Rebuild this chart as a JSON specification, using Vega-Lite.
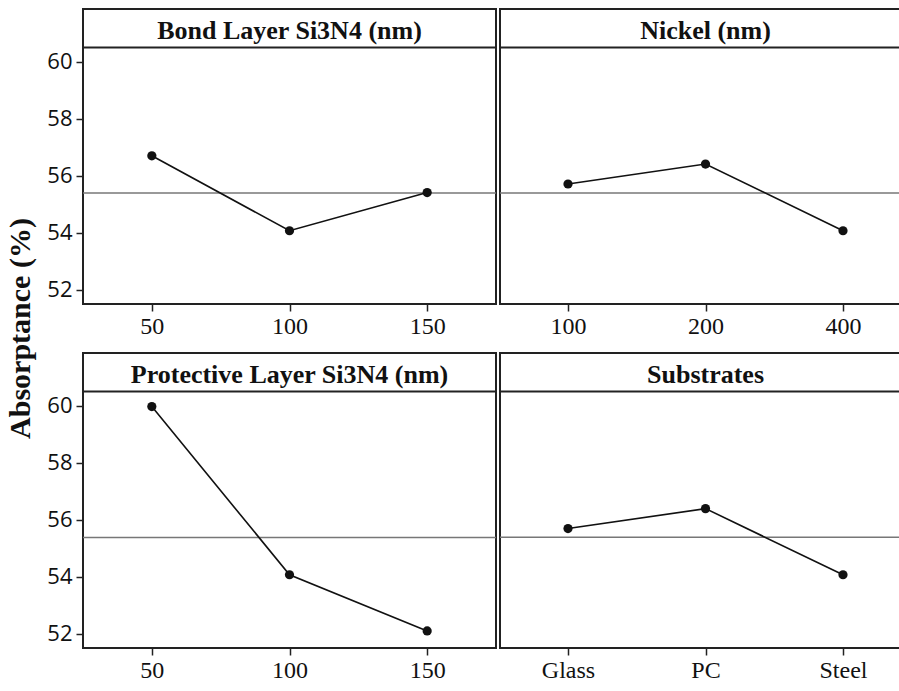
{
  "$schema": "https://vega.github.io/schema/vega-lite/v6.json",
  "padding": {"left": 5, "top": 8, "right": 0, "bottom": 0},
  "background": "white",
  "datasets": {
    "effects": [
      {"factor": "Bond", "level": "50", "absorptance": 56.70},
      {"factor": "Bond", "level": "100", "absorptance": 54.07},
      {"factor": "Bond", "level": "150", "absorptance": 55.41},
      {"factor": "Nickel", "level": "100", "absorptance": 55.71},
      {"factor": "Nickel", "level": "200", "absorptance": 56.41},
      {"factor": "Nickel", "level": "400", "absorptance": 54.07},
      {"factor": "Protective", "level": "50", "absorptance": 59.97},
      {"factor": "Protective", "level": "100", "absorptance": 54.07},
      {"factor": "Protective", "level": "150", "absorptance": 52.10},
      {"factor": "Substrates", "level": "Glass", "absorptance": 55.69},
      {"factor": "Substrates", "level": "PC", "absorptance": 56.39},
      {"factor": "Substrates", "level": "Steel", "absorptance": 54.07}
    ]
  },
  "title": {
    "text": "Absorptance (%)",
    "orient": "left",
    "anchor": "middle",
    "font": "Liberation Serif",
    "fontSize": 30,
    "fontWeight": "bold",
    "color": "#111",
    "offset": 10,
    "dx": 17
  },
  "spacing": 13,
  "vconcat": [
    {
      "spacing": 0,
      "hconcat": [
        {
          "width": 413, "height": 295,
          "layer": [
            {
              "data": {"name": "effects"},
              "transform": [{"filter": "datum.factor === 'Bond'"}, {"aggregate": [{"op": "mean", "field": "absorptance", "as": "absorptance"}]}],
              "mark": {"type": "rule", "color": "#777", "strokeWidth": 1.5},
              "encoding": {"y": {"field": "absorptance", "type": "quantitative", "title": null}}
            },
            {
              "data": {"values": [{"edge": 60.5}]},
              "mark": {"type": "rule", "color": "#222", "strokeWidth": 2},
              "encoding": {"y": {"field": "edge", "type": "quantitative", "title": null}}
            },
            {
              "data": {"name": "effects"},
              "transform": [{"filter": "datum.factor === 'Bond'"}],
              "mark": {"type": "line", "color": "#111", "strokeWidth": 1.6},
              "encoding": {
                "x": {"field": "level", "type": "nominal", "sort": null, "scale": {"type": "point", "padding": 0.5, "domain": ["50", "100", "150"]}, "title": null},
                "y": {"field": "absorptance", "type": "quantitative", "title": null, "scale": {"domain": [51.5, 61.85], "nice": false, "zero": false}, "axis": {"values": [52, 54, 56, 58, 60]}}
              }
            },
            {
              "data": {"name": "effects"},
              "transform": [{"filter": "datum.factor === 'Bond'"}],
              "mark": {"type": "point", "filled": true, "color": "#111", "size": 85, "opacity": 1},
              "encoding": {
                "x": {"field": "level", "type": "nominal", "sort": null, "title": null},
                "y": {"field": "absorptance", "type": "quantitative", "title": null}
              }
            },
            {
              "data": {"values": [{"label": "Bond Layer Si3N4 (nm)", "level": "100", "pos": 60.8}]},
              "mark": {"type": "text", "font": "Liberation Serif", "fontSize": 26, "fontWeight": "bold", "color": "#111", "baseline": "alphabetic", "align": "center"},
              "encoding": {
                "x": {"field": "level", "type": "nominal", "sort": null, "title": null},
                "y": {"field": "pos", "type": "quantitative", "title": null},
                "text": {"field": "label"}
              }
            }
          ]
        },
        {
          "width": 401, "height": 295,
          "layer": [
            {
              "data": {"name": "effects"},
              "transform": [{"filter": "datum.factor === 'Nickel'"}, {"aggregate": [{"op": "mean", "field": "absorptance", "as": "absorptance"}]}],
              "mark": {"type": "rule", "color": "#777", "strokeWidth": 1.5},
              "encoding": {"y": {"field": "absorptance", "type": "quantitative", "title": null, "axis": null}}
            },
            {
              "data": {"values": [{"edge": 60.5}]},
              "mark": {"type": "rule", "color": "#222", "strokeWidth": 2},
              "encoding": {"y": {"field": "edge", "type": "quantitative", "title": null, "axis": null}}
            },
            {
              "data": {"name": "effects"},
              "transform": [{"filter": "datum.factor === 'Nickel'"}],
              "mark": {"type": "line", "color": "#111", "strokeWidth": 1.6},
              "encoding": {
                "x": {"field": "level", "type": "nominal", "sort": null, "scale": {"type": "point", "range": [68, 343], "padding": 0, "domain": ["100", "200", "400"]}, "title": null},
                "y": {"field": "absorptance", "type": "quantitative", "title": null, "axis": null, "scale": {"domain": [51.5, 61.85], "nice": false, "zero": false}}
              }
            },
            {
              "data": {"name": "effects"},
              "transform": [{"filter": "datum.factor === 'Nickel'"}],
              "mark": {"type": "point", "filled": true, "color": "#111", "size": 85, "opacity": 1},
              "encoding": {
                "x": {"field": "level", "type": "nominal", "sort": null, "title": null},
                "y": {"field": "absorptance", "type": "quantitative", "title": null, "axis": null}
              }
            },
            {
              "data": {"values": [{"label": "Nickel (nm)", "level": "200", "pos": 60.8}]},
              "mark": {"type": "text", "font": "Liberation Serif", "fontSize": 26, "fontWeight": "bold", "color": "#111", "baseline": "alphabetic", "align": "center"},
              "encoding": {
                "x": {"field": "level", "type": "nominal", "sort": null, "title": null},
                "y": {"field": "pos", "type": "quantitative", "title": null, "axis": null},
                "text": {"field": "label"}
              }
            }
          ]
        }
      ]
    },
    {
      "spacing": 0,
      "hconcat": [
        {
          "width": 413, "height": 295,
          "layer": [
            {
              "data": {"name": "effects"},
              "transform": [{"filter": "datum.factor === 'Protective'"}, {"aggregate": [{"op": "mean", "field": "absorptance", "as": "absorptance"}]}],
              "mark": {"type": "rule", "color": "#777", "strokeWidth": 1.5},
              "encoding": {"y": {"field": "absorptance", "type": "quantitative", "title": null}}
            },
            {
              "data": {"values": [{"edge": 60.5}]},
              "mark": {"type": "rule", "color": "#222", "strokeWidth": 2},
              "encoding": {"y": {"field": "edge", "type": "quantitative", "title": null}}
            },
            {
              "data": {"name": "effects"},
              "transform": [{"filter": "datum.factor === 'Protective'"}],
              "mark": {"type": "line", "color": "#111", "strokeWidth": 1.6},
              "encoding": {
                "x": {"field": "level", "type": "nominal", "sort": null, "scale": {"type": "point", "padding": 0.5, "domain": ["50", "100", "150"]}, "title": null},
                "y": {"field": "absorptance", "type": "quantitative", "title": null, "scale": {"domain": [51.5, 61.85], "nice": false, "zero": false}, "axis": {"values": [52, 54, 56, 58, 60]}}
              }
            },
            {
              "data": {"name": "effects"},
              "transform": [{"filter": "datum.factor === 'Protective'"}],
              "mark": {"type": "point", "filled": true, "color": "#111", "size": 85, "opacity": 1},
              "encoding": {
                "x": {"field": "level", "type": "nominal", "sort": null, "title": null},
                "y": {"field": "absorptance", "type": "quantitative", "title": null}
              }
            },
            {
              "data": {"values": [{"label": "Protective Layer Si3N4  (nm)", "level": "100", "pos": 60.8}]},
              "mark": {"type": "text", "font": "Liberation Serif", "fontSize": 26, "fontWeight": "bold", "color": "#111", "baseline": "alphabetic", "align": "center"},
              "encoding": {
                "x": {"field": "level", "type": "nominal", "sort": null, "title": null},
                "y": {"field": "pos", "type": "quantitative", "title": null},
                "text": {"field": "label"}
              }
            }
          ]
        },
        {
          "width": 401, "height": 295,
          "layer": [
            {
              "data": {"name": "effects"},
              "transform": [{"filter": "datum.factor === 'Substrates'"}, {"aggregate": [{"op": "mean", "field": "absorptance", "as": "absorptance"}]}],
              "mark": {"type": "rule", "color": "#777", "strokeWidth": 1.5},
              "encoding": {"y": {"field": "absorptance", "type": "quantitative", "title": null, "axis": null}}
            },
            {
              "data": {"values": [{"edge": 60.5}]},
              "mark": {"type": "rule", "color": "#222", "strokeWidth": 2},
              "encoding": {"y": {"field": "edge", "type": "quantitative", "title": null, "axis": null}}
            },
            {
              "data": {"name": "effects"},
              "transform": [{"filter": "datum.factor === 'Substrates'"}],
              "mark": {"type": "line", "color": "#111", "strokeWidth": 1.6},
              "encoding": {
                "x": {"field": "level", "type": "nominal", "sort": null, "scale": {"type": "point", "range": [68, 343], "padding": 0, "domain": ["Glass", "PC", "Steel"]}, "title": null},
                "y": {"field": "absorptance", "type": "quantitative", "title": null, "axis": null, "scale": {"domain": [51.5, 61.85], "nice": false, "zero": false}}
              }
            },
            {
              "data": {"name": "effects"},
              "transform": [{"filter": "datum.factor === 'Substrates'"}],
              "mark": {"type": "point", "filled": true, "color": "#111", "size": 85, "opacity": 1},
              "encoding": {
                "x": {"field": "level", "type": "nominal", "sort": null, "title": null},
                "y": {"field": "absorptance", "type": "quantitative", "title": null, "axis": null}
              }
            },
            {
              "data": {"values": [{"label": "Substrates", "level": "PC", "pos": 60.8}]},
              "mark": {"type": "text", "font": "Liberation Serif", "fontSize": 26, "fontWeight": "bold", "color": "#111", "baseline": "alphabetic", "align": "center"},
              "encoding": {
                "x": {"field": "level", "type": "nominal", "sort": null, "title": null},
                "y": {"field": "pos", "type": "quantitative", "title": null, "axis": null},
                "text": {"field": "label"}
              }
            }
          ]
        }
      ]
    }
  ],
  "config": {
    "view": {"stroke": "#222", "strokeWidth": 2},
    "axis": {"domain": false, "grid": false, "ticks": true, "tickColor": "#222", "tickWidth": 1.5, "tickSize": 7, "labelColor": "#111"},
    "axisX": {"labelFont": "Liberation Serif", "labelFontSize": 24, "labelPadding": 3, "labelAngle": 0},
    "axisY": {"labelFont": "Open Sans", "labelFontSize": 22, "labelPadding": 4}
  }
}
